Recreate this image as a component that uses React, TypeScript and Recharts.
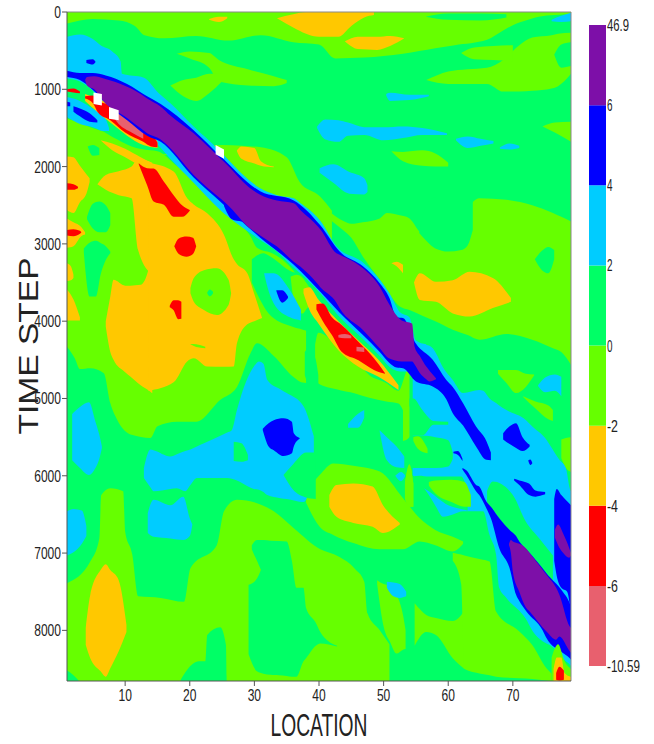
import React from 'react';
import {
  Area,
  Bar,
  BarChart,
  ComposedChart,
  ReferenceLine,
  XAxis,
  YAxis,
} from 'recharts';

// each region: [location, first time step, last time step]
type Region = number[][];

const PURPLE = '#7d0fa8';
const BLUE = '#0000ff';
const CYAN = '#00ccff';
const SPRING = '#00ff66';
const LIME = '#66ff00';
const ORANGE = '#ffc800';
const RED = '#ff0000';
const PINK = '#e8606e';
const WHITE = '#ffffff';

const xTicks = [10, 20, 30, 40, 50, 60, 70];
const yTicks = [0, 1000, 2000, 3000, 4000, 5000, 6000, 7000, 8000];
const barLabels = ['-10.59', '-6', '-4', '-2', '0', '2', '4', '6', '46.9'];
const barColors = [PINK, RED, ORANGE, LIME, SPRING, CYAN, BLUE, PURPLE];
const barRow = [{ name: 'level', s0: 1, s1: 1, s2: 1, s3: 1, s4: 1, s5: 1, s6: 1, s7: 1 }];

const field: Region = [[1, 0, 8655], [79, 0, 8655]];

const limeTop: Region = [[1,0,150],[5,0,90],[9,0,110],[11.5,0,180],[13,0,300],[16,0,340],[21,0,310],[26,0,370],[31,0,300],[36,0,390],[40,0,420],[42.5,0,600],[47,0,590],[53,0,540],[58,0,470],[61,0,430],[66,0,360],[68.5,0,240],[70,0,170],[72,0,110],[74,0,60],[79,0,30]];
const springTop: Region = [[56.5,60,60],[60,20,100],[65,20,110],[69,30,70]];
const limeArm: Region = [[18,540,540],[20,510,600],[23,530,720],[24.5,620,900],[29,740,950],[33,830,960],[35,880,920]];
const limeLobe: Region = [[17,950,950],[19,880,1090],[21,850,1150],[23,800,1050],[25,800,900]];
const limeRight: Region = [[56.6,880,880],[60,770,930],[63,740,930],[66,720,930],[68.5,620,1030],[71,430,1030],[73,330,1020],[76,300,990],[77,280,960],[79,270,800]];
const limeRightB: Region = [[62,530,530],[64,460,610],[67,440,620],[70,430,640]];
const springRight: Region = [[76.4,550,550],[77.5,420,720],[79,390,700]];
const limeEdge: Region = [[74.6,1480,1480],[76.5,1430,1560],[79,1420,1680]];
const limeMidN: Region = [[51.2,1800,1800],[53,1810,1930],[56,1790,1990],[58,1830,2000],[60,1950,2000]];
const orangeTop: Region = [[33.5,80,80],[36,30,200],[38,0,280],[40,0,320],[43,0,320],[45,0,180],[47,0,70],[48.5,0,40]];
const orangeTopB: Region = [[44,380,380],[46,320,480],[49,320,490],[51,310,440],[53.2,340,340]];
const orangeTopC: Region = [[23,90,100],[24.5,60,130],[25.8,60,80]];

const limeEast: Region = [[41.6,2580,2680],[43.7,2700,2820],[45,2740,2920],[46.8,2720,3165],[49.4,2670,3465],[50.5,2600,3600],[52.5,2630,3810],[54,2670,3855],[56,2860,3930],[58,2600,4000],[60.7,2520,4110],[63,2500,4180],[64.8,2410,4240],[69,2430,4165],[73,2500,4240],[76.2,2600,4350],[77.5,2650,4400],[79,2710,4565]];
const limeBand: Region = [[15.5,1850,1850],[25,1720,1870],[28,1730,2120],[31,1750,2350],[35,1880,2510],[37,2200,2650],[40.2,2390,2800],[42,2570,2950]];
const orangeBand: Region = [[27.3,1790,1800],[28,1740,1900],[30,1760,1960],[31,1930,1990],[33,2000,2010]];
const springHole: Region = [[55.5,2860,2860],[56.6,2500,2960],[58,2400,3060],[60,2400,3100],[62,2400,3080],[63,2400,3020],[63.8,2400,2820]];
const springEast: Region = [[73.4,3200,3200],[74.5,3090,3340],[75.5,3040,3380],[76.4,3080,3200]];
const orangeEast: Region = [[54.7,3500,3500],[55.6,3380,3725],[58.1,3490,3750],[60.7,3470,3900],[63.3,3360,3940],[66.9,3440,3830],[69.7,3700,3750]];
const orangeDot: Region = [[51.2,3250,3250],[52,3230,3290],[53,3270,3380]];
const limeE1: Region = [[67.7,4630,4680],[69,4630,4800],[70.5,4630,4930],[72,4680,4850],[73.3,4690,4700]];
const limeE2: Region = [[71.6,4970,4980],[73.5,5040,5130],[75.5,5090,5270],[76.2,5150,5290]];
const limeE3: Region = [[77.5,5530,5770],[78.2,5510,5900],[79,5500,5950]];

const limeWest: Region = [[1,1375,4330],[2.2,1410,4480],[3,1430,4620],[4.6,1490,4610],[6.7,1550,4675],[7.7,1600,5060],[8.8,1650,5280],[11,1740,5470],[13.9,1790,5510],[15,1800,5360],[18,1990,5300],[21,2200,5300],[24.7,2450,5020],[27.3,2700,4850],[29.4,2900,4415],[30.4,3050,4285],[33,3130,4450],[36,3340,4720],[37,3450,4780],[38,3500,4800]];
const springA: Region = [[4.2,1740,1740],[5,1720,1860],[6,1760,1850]];
const springB: Region = [[4.1,2650,2680],[5,2480,2800],[6,2450,2850],[7,2500,2850],[7.7,2600,2760]];
const springC: Region = [[3.6,3060,3110],[4.5,2985,3680],[5.5,2960,3680],[6.2,2990,3400],[7,3030,3210],[7.7,3100,3120]];
const springPatch: Region = [[29.6,3200,3500],[31.4,3120,3800],[32.2,3150,3900],[35.8,3360,4070],[37.5,3400,4110],[39.4,3900,4160],[40,4000,4180]];
const limeC: Region = [[35.6,3426,3426],[36.5,3400,3880],[37.5,3440,3900],[38,3500,3850],[38.5,3560,3800]];
const limeD: Region = [[39.4,4300,4600],[39.9,4150,4805],[42.7,4300,4880],[45.6,4500,4935],[47.8,4700,4990],[50.4,4800,5040],[52.3,4900,5065],[53.3,4700,5200],[54,4520,5300]];
const springFinger: Region = [[37.8,4400,4700],[38.5,4330,4850],[39.5,4500,4900],[39.9,4700,4850]];
const limeDrop: Region = [[53,5100,5550],[54,5100,5500],[54.8,5200,5300]];
const cyanPatch: Region = [[31.5,3380,3380],[32,3380,3550],[33,3380,3770],[35.5,3600,3950],[37.2,3850,3990]];
const bluePatch: Region = [[33.4,3600,3610],[34.3,3600,3760],[35.2,3680,3700]];

const limeSouth: Region = [[1,7390,8655],[4.6,7110,8655],[6,6810,8655],[6.3,6250,8655],[7.7,6160,8655],[9.7,6200,8655],[10,6720,8655],[11.1,7020,8655],[12,7560,8655],[15.5,7580,8655],[19.1,7630,8655],[20.1,7195,8655],[24.2,6895,8655],[25.3,6460,8655],[27.3,6310,8655],[33,6460,8655],[36.1,6680,8655],[40.2,6950,8655],[42.4,7020,8655],[45.5,7200,8655],[47,7370,8655],[47.5,7780,8655],[49.4,8000,8655],[50.9,8180,8655]];
const limeMid: Region = [[38,6200,6350],[40.1,5990,6660],[42.2,5840,6765],[45.3,5870,6870],[49.4,5945,6950],[53,6290,6950],[55.6,6550,6850],[58,6700,6900],[60.7,6790,6980],[62.3,6850,6880]];
const limeSpike: Region = [[53.3,6100,6300],[54,5850,6400],[54.6,6100,6400]];
const lime2: Region = [[49,7350,7400],[50,7400,7950],[51,7420,8150],[52,7540,8300],[53,7800,8250],[53.4,8000,8240]];
const lime3: Region = [[54.8,7650,8200],[56.6,7800,8020],[58.1,7840,8060],[60.7,7880,8360],[62.5,7750,8500]];
const limeE4: Region = [[60.7,6995,7100],[62,7020,7400],[62.5,7030,8500],[65,7080,8560],[66.4,7110,8580],[67.4,7755,8600],[71,8015,8620],[73,8190,8630],[75.2,8490,8650],[76,8560,8655]];
const springS1: Region = [[18.6,8640,8655],[19.6,8510,8655],[21.4,8400,8655],[22.4,8400,8655],[22.7,8060,8655],[24.7,7960,8655],[25.6,8190,8655],[25.7,8600,8655]];
const springS2: Region = [[29.1,7410,8310],[30.4,7330,8530],[31.4,7130,8560],[32.5,6840,8575],[35,6850,8590],[35.8,7100,8600],[36.5,7450,8600],[37.6,7450,8400],[38,7710,8360],[39.5,7900,8200],[40.2,8020,8170],[42.8,8200,8210]];
const springS3: Region = [[29.6,6900,6950],[30.4,6830,7100],[31.4,6830,7250],[32.5,6840,7000]];
const springCorner: Region = [[1,8520,8655],[2,8580,8655],[2.8,8650,8655]];

const cyanLeft: Region = [[1.8,5200,5800],[3,5110,5900],[4.4,5050,5990],[5.4,5300,5900],[6,5470,5780],[6.4,5620,5640]];
const cyanBig: Region = [[12.9,5900,6030],[13.9,5660,6150],[14.4,5670,6200],[17,5750,6170],[18,5720,6160],[19.3,5680,6200],[20.1,5660,6120],[21.1,5620,6030],[22.2,5580,6030],[25.8,5440,6030],[26.5,5410,6040],[27.3,5150,6060],[28,4950,6090],[29.9,4590,6170],[30.7,4520,6180],[31.4,4550,6210],[32,4760,6250],[34,4880,6290],[35,4930,6300],[37.6,5100,6340],[39.2,5490,6000]];
const springWedge: Region = [[34.5,5990,5990],[36,5850,6180],[38,5700,6280],[39.5,5700,6300]];
const springGap: Region = [[26.8,5560,5810],[28,5580,5820],[29,5730,5800]];
const blueBig: Region = [[31.3,5390,5410],[32.2,5320,5620],[33,5280,5670],[34.5,5255,5745],[35.8,5300,5710],[36.1,5450,5620],[37,5510,5520]];
const cyanLow: Region = [[13.5,6480,6740],[14.4,6310,6790],[17,6380,6810],[19,6270,6830],[20,6550,6780],[20.4,6630,6630]];
const cyanEdge: Region = [[1,6460,7030],[2,6430,6990],[3.3,6450,6880],[4,6650,6780]];
const cyanA: Region = [[39.7,1480,1500],[41,1390,1650],[43,1400,1680],[44.5,1430,1600],[47,1490,1590],[50,1490,1660],[53,1480,1630],[56,1500,1590],[59.8,1570,1590]];
const cyanB: Region = [[50.4,1060,1080],[51,1045,1150],[54,1070,1140],[57,1070,1090]];
const cyanC: Region = [[61.2,1640,1660],[63,1610,1760],[65,1640,1730],[67,1670,1700]];
const cyanD: Region = [[68,1750,1770],[69.5,1700,1780],[71,1730,1760]];
const cyanE: Region = [[40.1,2020,2080],[42.2,1970,2210],[44.7,2070,2350],[47,2150,2360],[47.5,2240,2330]];
const cyanF: Region = [[76,100,120],[77.5,50,130],[79,10,120]];
const cyanG: Region = [[44.5,5330,5380],[46,5200,5380],[47,5150,5250]];
const cyanH: Region = [[49.4,5410,5430],[50.5,5500,5800],[52,5620,5890],[53.2,5750,5900]];
const cyanI: Region = [[51.8,6000,6000],[52.7,5950,6070],[53.3,5990,6010]];
const cyanJ: Region = [[73.9,4830,4840],[75,4730,4920],[76.5,4690,4900],[77.5,4720,4970]];
const cyanK: Region = [[50.5,7370,7450],[51.5,7380,7560],[52.5,7400,7580],[53.5,7500,7560]];

const orangeLeft: Region = [[1,1870,2560],[2,1880,2600],[3,1990,2460],[4,2100,2350],[4.5,2150,2200]];
const orangeLeftB: Region = [[1,2670,3050],[2,2720,3030],[3.2,2780,2900],[3.8,2850,2880]];
const orangeLeftC: Region = [[1,3250,3480],[1.6,3290,3470],[2,3400,3440]];
const orangeLeftD: Region = [[1,3590,3990],[2,3720,3990],[3,3950,3990]];
const orangeArm: Region = [[6.2,1660,1660],[8,1700,1790],[10,1770,1880],[12.4,1880,2000],[14,1950,2100]];
const orangeNorth: Region = [[5.7,2230,2230],[7,2110,2300],[9,2060,2370],[11,2000,2410],[12,1900,3080],[14.2,1950,3400]];
const orangeBody: Region = [[7,4000,4070],[7.7,3680,4400],[8.2,3465,4500],[10,3540,4660],[10.8,3540,4716],[12.4,3530,4830],[13.7,3300,4900],[14.2,3000,4932]];
const orangeMain: Region = [[13.6,1950,4900],[17.5,2065,4790],[19.6,2410,4520],[20.6,2490,4480],[22.7,2604,4587],[25.3,2884,4590],[26.8,3200,4587],[27.3,3260,4285],[28.9,3380,4040],[30,3650,4000],[31.2,3960,3960]];
const limeRing: Region = [[20.1,3570,3640],[20.6,3445,3745],[22.2,3340,3855],[24.2,3315,3920],[26,3465,3790],[26.4,3640,3640]];
const springDot: Region = [[22.7,3630,3640],[23.1,3590,3680],[23.6,3620,3640]];
const limeThin: Region = [[20.1,4295,4300],[21,4300,4335],[22.4,4330,4350]];
const redA: Region = [[17.6,3030,3030],[18.3,2930,3130],[19.5,2905,3165],[20.5,2920,3130],[21,3030,3030]];
const redB: Region = [[16.9,3800,3820],[17.5,3730,3860],[18.2,3730,3975],[18.7,3750,3970]];
const redC: Region = [[12.1,1957,1970],[13.4,2020,2240],[14.4,2025,2450],[16,2195,2495],[17.5,2370,2650],[18.8,2500,2650],[20,2560,2570]];
const redLeftA: Region = [[1,2215,2300],[2,2230,2300],[2.7,2260,2280]];
const redLeftB: Region = [[1,2820,2890],[2,2810,2900],[3,2830,2870],[3.2,2850,2855]];
const orangeSouth: Region = [[3.9,7970,8190],[4.6,7540,8360],[6.2,7220,8530],[7,7144,8600],[7.7,7220,8490],[9,7350,8270],[10.2,7930,8020]];
const orangeCore: Region = [[41.6,6250,6400],[42.7,6120,6530],[45.3,6100,6610],[48.3,6140,6660],[49.9,6380,6740],[52.5,6610,6630]];

const cyanSouthEast: Region = [[54.5,4700,5990],[56.6,4307,6200],[57.6,4350,6330],[58.1,4415,6400],[59.2,4600,6530],[60.7,4760,6500],[62.3,4930,6460],[64.8,4890,6460],[65.4,4900,6460],[66.4,5000,6765],[67.4,5060,7020],[67.9,5090,7450],[69,5150,7580],[72,5277,7850],[73.1,5370,8015],[75.2,5535,8170],[75.7,5600,8190],[77.2,5794,8300],[78.2,5900,8400],[78.8,6160,8440],[79,6200,8460]];
const springP0: Region = [[54,5000,5480],[54.6,5000,5480],[56,5150,5480],[57.7,5290,5340],[60,5300,5340]];
const springP1: Region = [[54,5480,5900],[56,5480,5900],[58,5500,5900],[60,5540,5880],[60.7,5700,5780]];
const limeP1: Region = [[54.6,5500,5550],[55.3,5490,5650],[56.8,5650,5710]];
const blueP1: Region = [[60.8,5690,5710],[61.5,5680,5730],[62.2,5780,5810]];
const springSE: Region = [[54.5,6010,6030],[55.5,6000,6120],[57,6010,6200],[60,6010,6380],[62,6010,6430],[63,6200,6450]];
const limeSE: Region = [[57,6080,6130],[58,6060,6230],[60.5,6050,6340],[62.5,6080,6400],[63.5,6250,6400]];
const springStripe: Region = [[66,6200,6350],[66.9,6075,6450],[70,6250,6800],[72,6590,7100],[74.1,6810,7300],[76.2,7030,7500]];
const blueSpot: Region = [[68.5,5450,5530],[69.5,5360,5590],[70.5,5320,5640],[71.5,5500,5680],[72.6,5600,5620]];
const blueSpeck: Region = [[70.2,6040,6060],[71,6060,6120],[72.5,6100,6250],[73.5,6190,6270],[75,6210,6240]];
const blueSpeckB: Region = [[72.4,5800,5810],[72.7,5790,5860],[73,5830,5840]];

// the wave: outer cyan, blue edge, purple core
const cyanWave: Region = [[1,320,860],[3,290,900],[5,350,1020],[6.2,430,1150],[8,510,1290],[9.3,640,1370],[9.5,800,1380],[12.9,850,1560],[15.2,1050,1730],[17,1180,1900],[20.6,1480,2210],[24.7,1800,2560],[25.8,1900,2640],[30.9,2280,2950],[33.5,2370,3100],[36.1,2410,3310],[37.1,2470,3380],[40.2,2700,3640],[42.7,3030,3900],[46.8,3240,4230],[49.4,3460,4450],[50.9,3640,4590],[52.5,3880,4650],[54,3950,4650],[55,4250,4700],[56.6,4300,4800]];
const cyanLower: Region = [[1,1100,1360],[3,1150,1450],[5,1250,1490],[6.7,1340,1540],[7.5,1500,1540]];
const orangeStrip: Region = [[3.8,1060,1150],[7.7,1190,1430],[12.8,1450,1720],[15,1680,1760]];
const redStrip: Region = [[3.8,1090,1120],[5,1080,1180],[5.8,1150,1300],[7.7,1200,1400],[10,1300,1560],[12.8,1460,1680],[14,1560,1740],[15,1690,1750]];
const redDash: Region = [[1,1000,1030],[2,990,1040],[3,1030,1050]];
const pinkStrip: Region = [[8,1330,1340],[9,1320,1450],[11,1390,1560],[12.8,1530,1640]];
const whiteA: Region = [[5.1,1040,1190],[6.4,1060,1210]];
const whiteB: Region = [[7.5,1230,1380],[9,1270,1400]];
const whiteC: Region = [[24,1720,1840],[25.3,1780,1900]];
const blueDot: Region = [[4,620,660],[5,610,680],[5.4,640,650]];
const blueLow: Region = [[2,1220,1290],[3,1250,1350],[4.5,1310,1420],[5.7,1400,1430]];
const blueEdge: Region = [[1,1160,1220],[1.5,1170,1220]];
const blueWave: Region = [[1,760,840],[3,790,880],[5,790,1010],[7,820,1180],[10.3,930,1400],[13.4,1090,1600],[15.5,1190,1680],[20.6,1530,2140],[24.7,1860,2450],[30.9,2320,2920],[36.1,2440,3270],[40.2,2760,3620],[43.2,3100,3890],[46.8,3290,4180],[49.4,3510,4400],[50.9,3700,4540],[52,3950,4600],[53,3960,4610],[55,4290,4780],[57.6,4500,4846],[59.7,4760,5010],[60.7,4850,5190],[62.3,5061,5350],[64.3,5363,5620],[65.9,5550,5794],[66.6,5700,5800]];
const blueBlob: Region = [[25.3,2480,2510],[26.5,2460,2680],[28,2480,2710],[29.4,2580,2740]];
const blueTail: Region = [[62.2,5900,5920],[62.8,5930,5990],[64.3,6118,6200],[64.8,6140,6250],[65.9,6333,6420],[66.6,6400,6549],[67.9,6549,6937],[69.5,6700,7195],[70.5,6780,7540],[71,6850,7620],[72.1,6950,7756],[74.6,7195,8000],[75.2,7260,8100],[77.7,7497,8290],[78.8,7650,8360],[79,7700,8380]];
const blueRight: Region = [[76.4,6300,7100],[76.8,6170,7300],[77.5,6250,7450],[78.4,6330,7500],[79,6380,7800]];
const purpleWave: Region = [[3.8,880,880],[4.1,840,950],[5.2,830,1000],[6.7,860,1160],[10.3,966,1370],[12.4,1060,1505],[13.4,1120,1570],[15.5,1225,1650],[17,1340,1763],[20.6,1570,2108],[24.7,1893,2410],[25.8,1980,2490],[29.2,2270,2790],[30.9,2365,2890],[33.5,2440,3035],[36.1,2475,3230],[37.1,2560,3294],[39.9,2780,3530],[40.2,2810,3560],[42.7,3120,3760],[43.2,3140,3833],[46.8,3316,4113],[49.4,3553,4350],[50.8,3770,4480],[52.8,3990,4520],[54.4,4030,4520],[54.8,4330,4560],[55.6,4450,4670],[56.6,4587,4750],[57.1,4640,4780],[58.1,4738,4750]];
const purpleTail: Region = [[69.4,6880,6900],[69.7,6830,7000],[70,6850,7240],[71,6880,7500],[72,6937,7700],[72.6,7000,7756],[75.2,7280,8014],[76.7,7450,8120],[77.2,7540,8080],[78.8,7950,8270],[79,7970,8290]];
const purpleRight: Region = [[76.5,6700,6800],[77,6630,6900],[77.8,6750,7000],[78.7,6930,7060],[79,7000,7030]];
const orangeWake: Region = [[37.6,3580,3640],[38.5,3560,3850],[39.9,3720,4030],[43,4000,4375],[46.1,4250,4590],[49.2,4500,4720],[52.3,4830,4890]];
const redWake: Region = [[39.6,3780,3850],[40.6,3770,4000],[42,3950,4180],[43.5,4050,4395],[46.1,4267,4504],[48.5,4480,4630],[50.2,4670,4680]];
const pinkWakeA: Region = [[43,4180,4210],[44,4165,4220],[45,4190,4220]];
const pinkWakeB: Region = [[45.8,4330,4390],[47,4340,4400]];
const limeCorner: Region = [[76,8350,8655],[77,8180,8655],[78,8400,8655],[79,8500,8655]];
const orangeCorner: Region = [[76.3,8500,8655],[76.8,8350,8655],[77.5,8350,8655],[78,8550,8655],[79,8600,8655]];
const redCorner: Region = [[76.7,8550,8640],[77.2,8470,8650],[77.9,8520,8640]];

// painted in order, later regions on top
const layers: [Region, string][] = [
  [field, SPRING],
  [limeTop, LIME], [springTop, SPRING], [limeArm, LIME], [limeLobe, LIME], [limeRight, LIME], [limeRightB, LIME],
  [springRight, SPRING], [limeEdge, LIME], [limeMidN, LIME], [orangeTop, ORANGE], [orangeTopB, ORANGE], [orangeTopC, ORANGE],
  [limeBand, LIME], [orangeBand, ORANGE], [limeEast, LIME], [springHole, SPRING], [springEast, SPRING], [orangeEast, ORANGE], [orangeDot, ORANGE],
  [limeE1, LIME], [limeE2, LIME], [limeE3, LIME],
  [limeWest, LIME], [springA, SPRING], [springB, SPRING], [springC, SPRING], [springPatch, SPRING], [limeC, LIME], [limeD, LIME], [springFinger, SPRING], [limeDrop, LIME],
  [cyanPatch, CYAN], [bluePatch, BLUE],
  [limeSouth, LIME], [limeMid, LIME], [limeSpike, LIME], [lime2, LIME], [lime3, LIME], [limeE4, LIME],
  [springS1, SPRING], [springS2, SPRING], [springS3, SPRING], [springCorner, SPRING],
  [cyanLeft, CYAN], [cyanBig, CYAN], [springWedge, SPRING], [springGap, SPRING], [blueBig, BLUE], [cyanLow, CYAN], [cyanEdge, CYAN],
  [cyanA, CYAN], [cyanB, CYAN], [cyanC, CYAN], [cyanD, CYAN], [cyanE, CYAN], [cyanF, CYAN], [cyanG, CYAN],
  [cyanJ, CYAN], [cyanK, CYAN],
  [orangeLeft, ORANGE], [orangeLeftB, ORANGE], [orangeLeftC, ORANGE], [orangeLeftD, ORANGE], [orangeArm, ORANGE],
  [orangeNorth, ORANGE], [orangeBody, ORANGE], [orangeMain, ORANGE], [limeRing, LIME], [springDot, SPRING], [limeThin, LIME],
  [redA, RED], [redB, RED], [redC, RED], [redLeftA, RED], [redLeftB, RED], [orangeSouth, ORANGE], [orangeCore, ORANGE],
  [cyanSouthEast, CYAN], [springP0, SPRING], [springP1, SPRING], [limeP1, LIME], [blueP1, BLUE], [springSE, SPRING], [limeSE, LIME], [springStripe, SPRING],
  [cyanH, CYAN], [cyanI, CYAN], [limeSpike, LIME],
  [blueSpot, BLUE], [blueSpeck, BLUE], [blueSpeckB, BLUE],
  [cyanWave, CYAN], [cyanLower, CYAN], [orangeStrip, ORANGE], [redStrip, RED], [redDash, RED], [pinkStrip, PINK],
  [blueDot, BLUE], [blueLow, BLUE], [blueEdge, BLUE], [orangeWake, ORANGE], [redWake, RED], [pinkWakeA, PINK], [pinkWakeB, PINK],
  [blueWave, BLUE], [blueBlob, BLUE], [blueTail, BLUE], [blueRight, BLUE],
  [purpleWave, PURPLE], [purpleTail, PURPLE], [purpleRight, PURPLE],
  [whiteA, WHITE], [whiteB, WHITE], [whiteC, WHITE],
  [limeCorner, LIME], [orangeCorner, ORANGE], [redCorner, RED],
];

const FONT = '"Liberation Sans", sans-serif';

// the original's tick labels are squeezed sideways, textLength does that
const SqueezedTick = ({ x, y, payload, anchor, dx = 0, dy, label, charWidth = 6.7 }: any) => {
  const text = label ? label(payload.value) : String(payload.value);
  return (
    <text
      x={x + dx}
      y={y}
      dy={dy}
      fontSize={17}
      fontFamily={FONT}
      fill="#222"
      textAnchor={anchor}
      textLength={text.length * charWidth}
      lengthAdjust="spacingAndGlyphs"
    >
      {text}
    </text>
  );
};

const App = () => (
  <div style={{ position: 'absolute', left: 0, top: 0, width: 654, height: 744, background: '#fff' }}>
    <ComposedChart
      width={654}
      height={744}
      margin={{ top: 12, right: 83, bottom: 0, left: 0 }}
    >
      <XAxis
        dataKey="x"
        type="number"
        domain={[1, 79]}
        ticks={xTicks}
        allowDataOverflow
        height={63}
        stroke="#555"
        tick={<SqueezedTick anchor="middle" dy={14} />}
        tickSize={5}
        tickMargin={1}
        label={() => (
          <text x={319} y={736} fontFamily={FONT} fontSize={31} fill="#222" textAnchor="middle" textLength={97} lengthAdjust="spacingAndGlyphs">
            LOCATION
          </text>
        )}
      />
      <YAxis
        type="number"
        reversed
        domain={[0, 8655]}
        ticks={yTicks}
        allowDataOverflow
        width={67}
        stroke="#555"
        tick={<SqueezedTick anchor="end" dy={6} />}
        tickSize={5}
        tickMargin={1}
        label={() => (
          <text x={-346} y={38} transform="rotate(-90)" fontFamily={FONT} fontSize={27} fill="#222" textAnchor="middle" textLength={177} lengthAdjust="spacingAndGlyphs">
            TIME STEP
          </text>
        )}
      />
      {layers.map(([region, color], i) => (
        <Area
          key={i}
          data={region.map(([x, from, to]) => ({ x, range: [from, to] }))}
          dataKey="range"
          type="monotoneX"
          fill={color}
          fillOpacity={1}
          stroke="none"
          dot={false}
          activeDot={false}
          isAnimationActive={false}
        />
      ))}
      <ReferenceLine y={0} stroke="#888" />
      <ReferenceLine x={79} stroke="#888" />
    </ComposedChart>
    <div style={{ position: 'absolute', left: 589, top: 0 }}>
      <BarChart
        width={65}
        height={744}
        data={barRow}
        barCategoryGap={0}
        margin={{ top: 25, right: 0, bottom: 78, left: 0 }}
      >
        <XAxis dataKey="name" hide />
        <YAxis
          orientation="right"
          type="number"
          domain={[0, 8]}
          ticks={[0, 1, 2, 3, 4, 5, 6, 7, 8]}
          width={48}
          axisLine={false}
          tickLine={false}
          tickMargin={1}
          interval={0}
          tick={<SqueezedTick anchor="start" dx={-6} dy={6} charWidth={5.5} label={(v: number) => barLabels[v]} />}
        />
        {barColors.map((c, i) => (
          <Bar key={c} dataKey={`s${i}`} stackId="a" fill={c} isAnimationActive={false} />
        ))}
      </BarChart>
    </div>
  </div>
);

export default App;
